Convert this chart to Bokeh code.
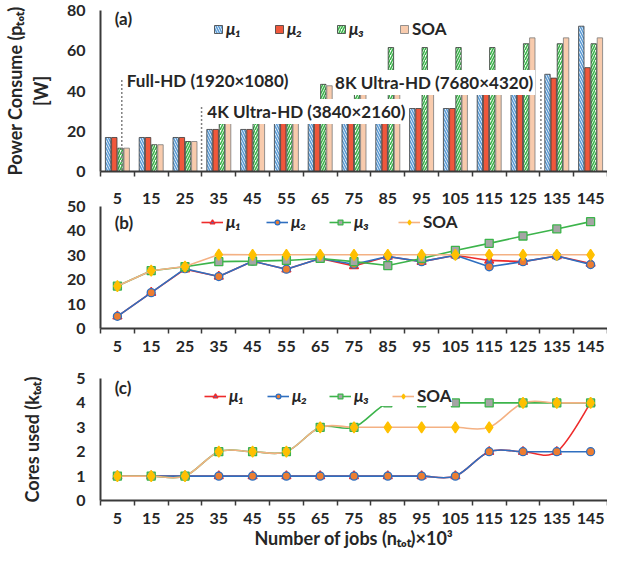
import math
from bokeh.plotting import figure
from bokeh.layouts import column
from bokeh.models import (Range1d, FixedTicker, Label, Legend, LegendItem, ColumnDataSource,
                          LinearAxis)
from bokeh.core.properties import value
from bokeh.transform import dodge
from bokeh.embed import file_html
from bokeh.resources import INLINE

# ---------------- data ----------------
jobs = [5, 15, 25, 35, 45, 55, 65, 75, 85, 95, 105, 115, 125, 135, 145]
series_names = ["μ₁", "μ₂", "μ₃", "SOA"]

power_mu1 = [16.9, 16.9, 16.9, 20.9, 20.9, 24.6, 24.6, 27.0, 29.0, 31.3, 31.3, 45.0, 45.0, 48.3, 72.2]
power_mu2 = [16.9, 16.9, 16.9, 20.9, 20.9, 24.6, 24.6, 27.0, 29.0, 31.3, 31.3, 45.0, 45.0, 46.4, 51.6]
power_mu3 = [11.6, 13.3, 14.9, 30.0, 30.0, 30.0, 43.3, 43.3, 61.6, 61.6, 61.6, 61.6, 63.5, 63.5, 63.5]
power_soa = [11.6, 13.3, 14.9, 30.0, 30.0, 30.0, 42.6, 42.6, 42.6, 42.6, 42.6, 42.6, 66.4, 66.4, 66.4]

time_mu1 = [5.0, 14.7, 24.3, 21.3, 27.6, 24.3, 28.7, 25.6, 29.5, 27.4, 30.0, 27.9, 27.4, 29.7, 26.6]
time_mu2 = [5.0, 14.7, 24.5, 21.3, 27.6, 24.3, 28.7, 26.3, 29.5, 27.4, 30.0, 25.3, 27.4, 29.7, 26.2]
time_mu3 = [17.4, 23.7, 25.3, 27.4, 27.6, 27.9, 28.7, 27.4, 25.8, 28.7, 32.0, 34.9, 37.9, 40.8, 43.8]
time_soa = [17.4, 23.7, 25.4, 30.3, 30.2, 30.2, 30.2, 30.2, 30.2, 30.2, 30.2, 30.2, 30.2, 30.2, 30.2]

cores_mu1 = [1, 1, 1, 1, 1, 1, 1, 1, 1, 1, 1, 2, 2, 2, 4]
cores_mu2 = [1, 1, 1, 1, 1, 1, 1, 1, 1, 1, 1, 2, 2, 2, 2]
cores_mu3 = [1, 1, 1, 2, 2, 2, 3, 3, 4, 4, 4, 4, 4, 4, 4]
cores_soa = [1, 1, 1, 2, 2, 2, 3, 3, 3, 3, 3, 3, 4, 4, 4]

power_ticks = [0, 20, 40, 60, 80]
time_ticks = [0, 10, 20, 30, 40, 50]
cores_ticks = [0, 1, 2, 3, 4, 5]

# ---------------- style ----------------
FONT = "Lato"
TXT = "#262626"
AX = "#3a3a3a"
EDGE = "#3a3a3a"
BLUE_H = "#5B9BD5"
RED_F = "#F0583C"
GREEN_H = "#3CB44B"
PEACH = "#F8CBAD"

L_RED = "#EE2B2B"
L_BLUE = "#2F6FC0"
L_GREEN = "#3CB44B"
L_PEACH = "#F4B183"
M_TRI = "#4472C4"
M_CIR = "#ED7D31"
M_SQ = "#A5A5A5"
M_DIA = "#FFC000"

W = 607
FL = 89          # left border (frame left at page x 97)


def style_labels(ax, size="16px"):
    ax.major_label_text_font = FONT
    ax.major_label_text_font_style = "bold"
    ax.major_label_text_font_size = size
    ax.major_label_text_color = TXT
    ax.axis_label_text_font = FONT
    ax.axis_label_text_font_style = "bold"
    ax.axis_label_text_font_size = "18px"
    ax.axis_label_text_color = TXT


def base_fig(height, ymax, yticks, top, bottom, show_xlabels=False, top_labels_standoff=None):
    p = figure(width=W, height=height, x_range=Range1d(0, 150), y_range=Range1d(0, ymax),
               output_backend="svg", toolbar_location=None,
               min_border_left=FL, min_border_right=0,
               min_border_top=top, min_border_bottom=bottom)
    p.outline_line_color = None
    p.xgrid.visible = False
    p.ygrid.visible = False
    p.background_fill_color = "white"
    p.border_fill_color = "white"
    xa = p.xaxis[0]
    xa.ticker = FixedTicker(ticks=jobs, minor_ticks=[j - 5 for j in jobs] + [jobs[-1] + 5])
    xa.major_tick_out = 0
    xa.major_tick_in = 0
    xa.minor_tick_out = 5
    xa.minor_tick_in = 0
    xa.minor_tick_line_color = AX
    xa.minor_tick_line_width = 1.5
    xa.axis_line_color = AX
    xa.axis_line_width = 2
    style_labels(xa)
    xa.major_label_standoff = 7
    if not show_xlabels:
        xa.major_label_overrides = {j: "" for j in jobs}
        xa.major_label_text_font_size = "0px"
        xa.major_label_standoff = 0
    ya = p.yaxis[0]
    ya.ticker = FixedTicker(ticks=yticks)
    ya.major_tick_out = 0
    ya.major_tick_in = 0
    ya.minor_tick_out = 0
    ya.minor_tick_in = 0
    ya.axis_line_color = AX
    ya.axis_line_width = 2
    style_labels(ya)
    ya.major_label_standoff = 15
    if top_labels_standoff is not None:
        # tick labels of the panel above, drawn at the top of this panel
        up = LinearAxis(ticker=FixedTicker(ticks=jobs), axis_line_color=None,
                        major_tick_line_color=None, minor_tick_line_color=None,
                        major_tick_out=0, minor_tick_out=0, major_tick_in=0, minor_tick_in=0,
                        major_label_standoff=top_labels_standoff)
        style_labels(up)
        p.add_layout(up, "above")
    return p


def add_leg(p, renderers, label, px, pcy, ftop, fh, italic=True, gw=22, gh=12, lw=20):
    L = Legend(items=[LegendItem(label=value(label), renderers=renderers)],
               location=(px - (FL + 8), fh - (pcy - ftop) - 10),
               orientation="horizontal", glyph_width=gw, glyph_height=gh,
               label_standoff=3, padding=0, margin=0, spacing=0,
               background_fill_color="white", background_fill_alpha=1.0,
               border_line_color=None, label_text_font=FONT,
               label_text_font_style="bold italic" if italic else "bold",
               label_text_font_size="17px", label_text_color=TXT,
               label_height=20, label_width=lw)
    p.add_layout(L)


def panel_tag(p, text, x, y):
    p.add_layout(Label(x=x, y=y, text=text, text_font=FONT, text_font_style="bold",
                       text_font_size="17px", text_color=TXT, text_baseline="middle"))


def smooth_segments(xs, ys):
    n = len(xs)
    d = dict(x0=[], y0=[], x1=[], y1=[], cx0=[], cy0=[], cx1=[], cy1=[])
    for i in range(n - 1):
        a = max(i - 1, 0)
        b = min(i + 2, n - 1)
        d["x0"].append(xs[i]); d["y0"].append(ys[i])
        d["x1"].append(xs[i + 1]); d["y1"].append(ys[i + 1])
        d["cx0"].append(xs[i] + (xs[i + 1] - xs[a]) / 6)
        d["cy0"].append(ys[i] + (ys[i + 1] - ys[a]) / 6)
        d["cx1"].append(xs[i + 1] - (xs[b] - xs[i]) / 6)
        d["cy1"].append(ys[i + 1] - (ys[b] - ys[i]) / 6)
    return d


# layout (page px): fig a 8..189, fig b 189..368, fig c 368..563
A_TOP, A_FH, A_BOT = 10, 161, 10
B_TOP, B_FH, B_BOT = 25, 122, 32
C_TOP, C_FH, C_BOT = 18, 122, 55
A_H = A_TOP + A_FH + A_BOT
B_H = B_TOP + B_FH + B_BOT
C_H = C_TOP + C_FH + C_BOT
a_ftop = 8 + A_TOP
b_ftop = 8 + A_H + B_TOP
c_ftop = 8 + A_H + B_H + C_TOP

# ---------------- panel (a) ----------------
pa = base_fig(A_H, 80, power_ticks, A_TOP, A_BOT)
pa.yaxis[0].axis_label = "Power Consume (pₜₒₜ)\n[W]"
pa.yaxis[0].axis_label_standoff = 12

src_a = ColumnDataSource(dict(jobs=jobs, mu1=power_mu1, mu2=power_mu2, mu3=power_mu3, soa=power_soa))
bw = 1.6
ra1 = pa.vbar(x=dodge("jobs", -2.75), top="mu1", width=bw, source=src_a, fill_color="white",
              hatch_pattern="\\", hatch_color=BLUE_H, hatch_scale=5, hatch_weight=1.6,
              line_color=EDGE, line_width=0.8)
ra2 = pa.vbar(x=dodge("jobs", -0.92), top="mu2", width=bw, source=src_a, fill_color=RED_F,
              line_color=EDGE, line_width=0.8)
ra3 = pa.vbar(x=dodge("jobs", 0.92), top="mu3", width=bw, source=src_a, fill_color="white",
              hatch_pattern="/", hatch_color=GREEN_H, hatch_scale=5, hatch_weight=1.6,
              line_color=EDGE, line_width=0.8)
ra4 = pa.vbar(x=dodge("jobs", 2.75), top="soa", width=bw, source=src_a, fill_color=PEACH,
              line_color="#7a7a7a", line_width=0.8)

# resolution annotations
DOT = "#808080"
pa.segment(x0=[6.3, 29.9, 130.3], y0=[45.5, 32.0, 46.0], x1=[6.3, 29.9, 130.3], y1=[0, 0, 0],
           line_color=DOT, line_width=1.5, line_dash="2 2")
for txt, x, y, al in [("Full-HD (1920×1080)", 7.2, 45.2, "left"),
                      ("4K Ultra-HD (3840×2160)", 31.0, 29.8, "left"),
                      ("8K Ultra-HD (7680×4320)", 128.6, 44.2, "right")]:
    pa.add_layout(Label(x=x, y=y, text=txt, text_align=al, text_baseline="middle",
                        text_font=FONT, text_font_style="bold", text_font_size="17px",
                        text_color=TXT, background_fill_color="white", background_fill_alpha=1.0,
                        padding=2))

panel_tag(pa, "(a)", 4.2, 76.0)
for r, lab, px, it in [(ra1, series_names[0], 210, True), (ra2, series_names[1], 271, True),
                       (ra3, series_names[2], 333, True), (ra4, series_names[3], 396, False)]:
    add_leg(pa, [r], lab, px, 37, a_ftop, A_FH, italic=it, gw=10, gh=10)

# ---------------- panel (b) ----------------
pb = base_fig(B_H, 50, time_ticks, B_TOP, B_BOT, show_xlabels=True, top_labels_standoff=3)
lines_b = []
for ys, lc, mk, mf, ml, sz in [(time_mu1, L_RED, "triangle", M_TRI, L_RED, 9),
                               (time_mu2, L_BLUE, "circle", M_CIR, L_BLUE, 8),
                               (time_mu3, L_GREEN, "square", M_SQ, L_GREEN, 8),
                               (time_soa, L_PEACH, "diamond", M_DIA, M_DIA, 11)]:
    rl = pb.line(jobs, ys, line_color=lc, line_width=1.6)
    rs = pb.scatter(jobs, ys, marker=mk, size=sz, fill_color=mf, line_color=ml, line_width=1.3)
    lines_b.append([rl, rs])

for rr, lab, px, it in zip(lines_b, series_names, [198, 263, 326, 395], [True, True, True, False]):
    add_leg(pb, rr, lab, px, 230, b_ftop, B_FH, italic=it)
panel_tag(pb, "(b)", 4.2, 43.4)


def vlab(p, text, sx, sy, size, align, style="bold"):
    p.add_layout(Label(x=sx, y=sy, x_units="screen", y_units="screen", text=text,
                       angle=math.pi / 2, text_align=align, text_baseline="middle",
                       text_font=FONT, text_font_style=style, text_font_size=size,
                       text_color=TXT))

# y title of (b) built from pieces (subscript f)
vlab(pb, "Time per Frame (t", -78, 117, "18px", "right")
vlab(pb, "f", -73, 117.5, "12px", "left", "bold italic")
vlab(pb, ")", -78, 122, "18px", "left")
vlab(pb, "[msec]", -58, 61, "18px", "center")

# ---------------- panel (c) ----------------
pc = base_fig(C_H, 5, cores_ticks, C_TOP, C_BOT, show_xlabels=True)
pc.yaxis[0].axis_label = "Cores used (kₜₒₜ)"
pc.yaxis[0].axis_label_standoff = 30
pc.below[0].axis_label = "Number of jobs (nₜₒₜ)×10³"
pc.below[0].axis_label_standoff = 0

specs_c = [(cores_mu1, L_RED, "triangle", M_TRI, L_RED, 9),
           (cores_mu2, L_BLUE, "circle", M_CIR, L_BLUE, 8),
           (cores_mu3, L_GREEN, "square", M_SQ, L_GREEN, 8),
           (cores_soa, L_PEACH, "diamond", M_DIA, M_DIA, 11)]
lines_c = []
for ys, lc, mk, mf, ml, sz in specs_c:
    seg = ColumnDataSource(smooth_segments(jobs, ys))
    rl = pc.bezier(x0="x0", y0="y0", x1="x1", y1="y1", cx0="cx0", cy0="cy0", cx1="cx1", cy1="cy1",
                   source=seg, line_color=lc, line_width=1.6)
    lines_c.append(rl)
marks_c = []
for ys, lc, mk, mf, ml, sz in specs_c:
    rs = pc.scatter(jobs, ys, marker=mk, size=sz, fill_color=mf, line_color=ml, line_width=1.3)
    marks_c.append(rs)

for rl, rs, lab, px, it, lw in zip(lines_c, marks_c, series_names, [201, 264, 326, 389],
                                   [True, True, True, False], [20, 20, 42, 20]):
    add_leg(pc, [rl, rs], lab, px, 404, c_ftop, C_FH, italic=it, lw=lw)
panel_tag(pc, "(c)", 4.2, 4.64)

layout = column(pa, pb, pc)
open("out.html", "w").write(file_html(layout, INLINE))
